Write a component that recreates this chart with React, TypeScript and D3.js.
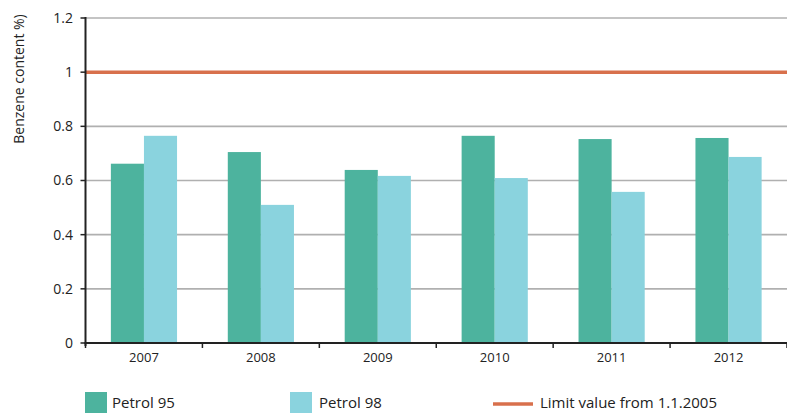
import React from "react";
import * as d3 from "d3";

const years = ["2007", "2008", "2009", "2010", "2011", "2012"];
const petrol95 = [0.662, 0.705, 0.639, 0.765, 0.753, 0.757];
const petrol98 = [0.765, 0.51, 0.617, 0.609, 0.558, 0.687];
const limitValue = 1.0;
const yTicks = [0, 0.2, 0.4, 0.6, 0.8, 1, 1.2];
const seriesNames = ["Petrol 95", "Petrol 98", "Limit value from 1.1.2005"];

const W = 787;
const H = 413;
const C95 = "#4db39e";
const C98 = "#8ad3de";
const CLIM = "#d8704c";
const FONT = "'Open Sans', 'Noto Sans', sans-serif";

export default function App() {
  const x0 = 85.5;
  const x1 = 787;
  const y = d3.scaleLinear().domain([0, 1.2]).range([343, 18]);
  const x = d3.scaleBand<string>().domain(years).range([x0, x1]).padding(0);
  const bw = x.bandwidth() * 0.283;
  const yearBounds = d3.range(years.length + 1).map((i) => x0 + i * x.step());

  return (
    <svg width={W} height={H} style={{ position: "absolute", left: 0, top: 0, background: "#fff" }}>
      {yTicks.filter((t) => t > 0).map((t) => (
        <line key={t} x1={x0} x2={x1} y1={y(t)} y2={y(t)} stroke="#b0b0b0" strokeWidth={1.6} />
      ))}
      {years.map((yr, i) => {
        const c = (x(yr) as number) + x.bandwidth() / 2;
        return (
          <g key={yr}>
            <rect x={c - bw} y={y(petrol95[i])} width={bw} height={y(0) - y(petrol95[i])} fill={C95} />
            <rect x={c} y={y(petrol98[i])} width={bw} height={y(0) - y(petrol98[i])} fill={C98} />
          </g>
        );
      })}
      <line x1={x0} x2={x1} y1={y(limitValue)} y2={y(limitValue)} stroke={CLIM} strokeWidth={3.5} />
      <line x1={x0} x2={x0} y1={y(1.2) - 1} y2={y(0) + 3} stroke="#222" strokeWidth={2} />
      {yTicks.map((t) => (
        <g key={t}>
          <line x1={x0 - 5} x2={x0} y1={y(t)} y2={y(t)} stroke="#222" strokeWidth={1.5} />
          <text x={73} y={y(t)} dy="0.35em" textAnchor="end" fontFamily={FONT} fontSize={14} fill="#222">
            {d3.format("~g")(t)}
          </text>
        </g>
      ))}
      <text
        transform={`translate(24, 79) rotate(-90)`}
        textAnchor="middle"
        fontFamily={FONT}
        fontSize={14}
        fill="#222"
      >
        Benzene content %)
      </text>
      <line x1={x0 - 1} x2={x1} y1={y(0)} y2={y(0)} stroke="#222" strokeWidth={2} />
      {yearBounds.map((b, i) => (
        <line key={i} x1={b} x2={b} y1={y(0)} y2={y(0) + 5} stroke="#222" strokeWidth={1.5} />
      ))}
      {years.map((yr) => (
        <text
          key={yr}
          x={(x(yr) as number) + x.bandwidth() / 2}
          y={362}
          textAnchor="middle"
          fontFamily={FONT}
          fontSize={13}
          fill="#222"
        >
          {yr}
        </text>
      ))}
      <rect x={85} y={392} width={22} height={22} fill={C95} />
      <text x={112} y={408} fontFamily={FONT} fontSize={15} fill="#222">{seriesNames[0]}</text>
      <rect x={290} y={392} width={22} height={22} fill={C98} />
      <text x={319} y={408} fontFamily={FONT} fontSize={15} fill="#222">{seriesNames[1]}</text>
      <line x1={493} x2={533} y1={404} y2={404} stroke={CLIM} strokeWidth={3.5} />
      <text x={540} y={408} fontFamily={FONT} fontSize={15} fill="#222">{seriesNames[2]}</text>
    </svg>
  );
}
